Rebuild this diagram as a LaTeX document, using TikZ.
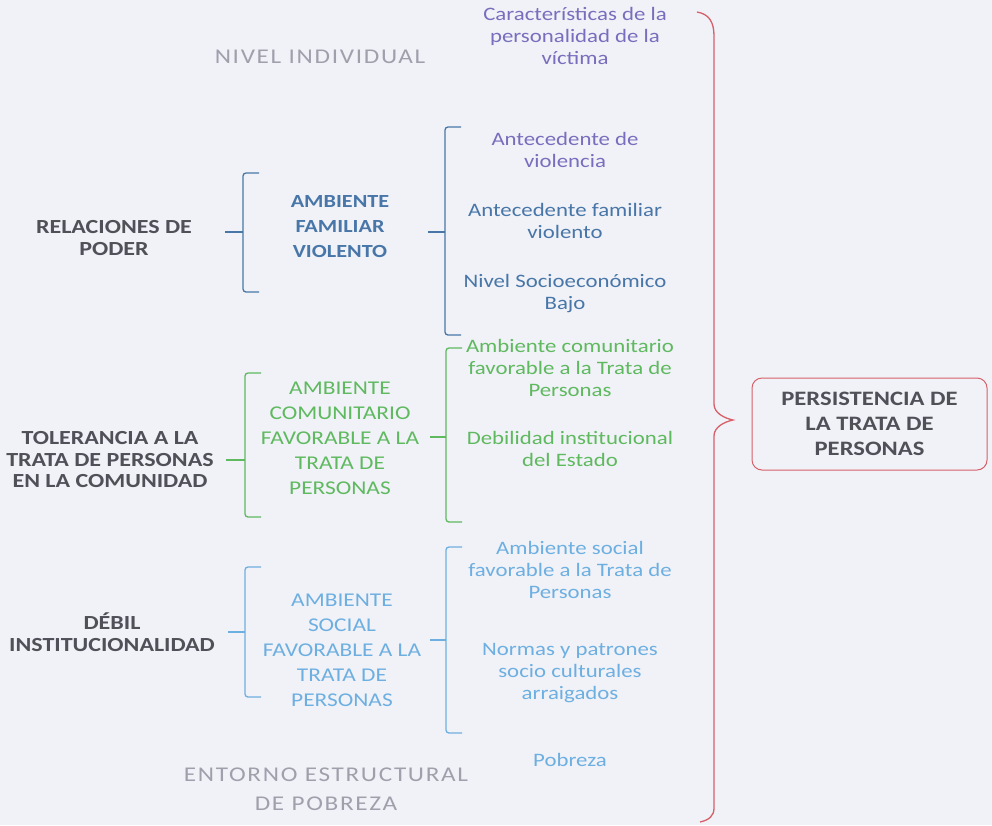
\documentclass[tikz,border=0pt]{standalone}
\usepackage{fontspec}
\setmainfont{Carlito}[FakeStretch=1.2]
\definecolor{bgc}{RGB}{240,242,247}
\definecolor{darkg}{RGB}{80,80,88}
\definecolor{lightg}{RGB}{160,160,172}
\definecolor{purp}{RGB}{120,110,190}
\definecolor{blu}{RGB}{72,118,168}
\definecolor{grn}{RGB}{95,185,95}
\definecolor{lblu}{RGB}{110,175,225}
\definecolor{redc}{RGB}{215,95,105}
\tikzset{
  txt/.style={align=center, inner sep=0pt, font=\fontsize{19}{22}\selectfont},
  bold/.style={align=center, inner sep=0pt, font=\fontsize{20}{21.5}\selectfont\bfseries},
  midb/.style={align=center, inner sep=0pt, font=\fontsize{19.5}{25}\selectfont},
  grayt/.style={align=center, inner sep=0pt, text=lightg},
  brk/.style={line width=1.3pt, rounded corners=3pt},
}
\newcommand{\mybrk}[6]{% color, x, ytop, ybot, ytick, xtick
  \draw[brk,#1] (#2+16,#3) -- (#2,#3) -- (#2,#4) -- (#2+16,#4);
  \draw[brk,#1] (#6,#5) -- (#2,#5);
}
\begin{document}
\begin{tikzpicture}[x=1pt,y=-1pt]
\fill[bgc] (0,0) rectangle (992,825);
\useasboundingbox (0,0) rectangle (992,825);

% top level
\node[grayt, font=\fontsize{21}{22}\selectfont\addfontfeature{LetterSpace=8}] (niv) at (320,57) {NIVEL INDIVIDUAL};
\node[txt, text=purp] (car) at (575,36) {Características de la\\personalidad de la\\víctima};

% block 1 (blue)
\node[bold, text=darkg] (rel) at (114,238) {RELACIONES DE\\PODER};
\mybrk{blu}{243}{173}{292}{232}{225}
\node[midb, text=blu, font=\fontsize{18.5}{25}\selectfont\bfseries] (amf) at (340,227) {AMBIENTE\\FAMILIAR\\VIOLENTO};
\mybrk{blu}{445}{127}{335}{232}{428}
\node[txt, text=purp] (av) at (565,150) {Antecedente de\\violencia};
\node[txt, text=blu] (afv) at (565,221) {Antecedente familiar\\violento};
\node[txt, text=blu] (nsb) at (565,294) {Nivel Socioeconómico\\Bajo};

% block 2 (green)
\node[bold, text=darkg] (tol) at (110,460) {TOLERANCIA A LA\\TRATA DE PERSONAS\\EN LA COMUNIDAD};
\mybrk{grn}{245}{373}{517}{460}{226}
\node[midb, text=grn] (acf) at (340,438) {AMBIENTE\\COMUNITARIO\\FAVORABLE A LA\\TRATA DE\\PERSONAS};
\mybrk{grn}{446}{348}{522}{437}{430}
\node[txt, text=grn] (acft) at (570,368) {Ambiente comunitario\\favorable a la Trata de\\Personas};
\node[txt, text=grn] (die) at (570,449) {Debilidad institucional\\del Estado};

% block 3 (light blue)
\node[bold, text=darkg] (deb) at (112,632) {DÉBIL\\INSTITUCIONALIDAD};
\mybrk{lblu}{245}{567}{697}{632}{228}
\node[midb, text=lblu] (asf) at (342,650) {AMBIENTE\\SOCIAL\\FAVORABLE A LA\\TRATA DE\\PERSONAS};
\mybrk{lblu}{446}{547}{733}{640}{430}
\node[txt, text=lblu] (asft) at (570,570) {Ambiente social\\favorable a la Trata de\\Personas};
\node[txt, text=lblu] (nps) at (570,673) {Normas y patrones\\socio culturales\\arraigados};
\node[txt, text=lblu] (pob) at (570,760) {Pobreza};
\node[grayt, font=\fontsize{21}{29}\selectfont\addfontfeature{LetterSpace=8}] (ent) at (326,789) {ENTORNO ESTRUCTURAL\\DE POBREZA};

% big red brace
\coordinate (tip) at (733,420);
\draw[redc, line width=1.3pt] (697,12) .. controls (709,14) and (714,22) .. (714,36) -- (714,404)
  .. controls (714,413) and (724,418) .. (tip)
  .. controls (724,422) and (714,427) .. (714,436) -- (714,808)
  .. controls (714,816) and (709,820) .. (700,822);

% result box
\node[draw=redc, line width=1pt, rounded corners=10pt, minimum width=235pt, minimum height=92pt,
  align=center, inner sep=0pt, text=darkg, font=\fontsize{20.5}{25}\selectfont\bfseries] (res) at (869.5,424) {PERSISTENCIA DE\\LA TRATA DE\\PERSONAS};
\end{tikzpicture}
\end{document}
